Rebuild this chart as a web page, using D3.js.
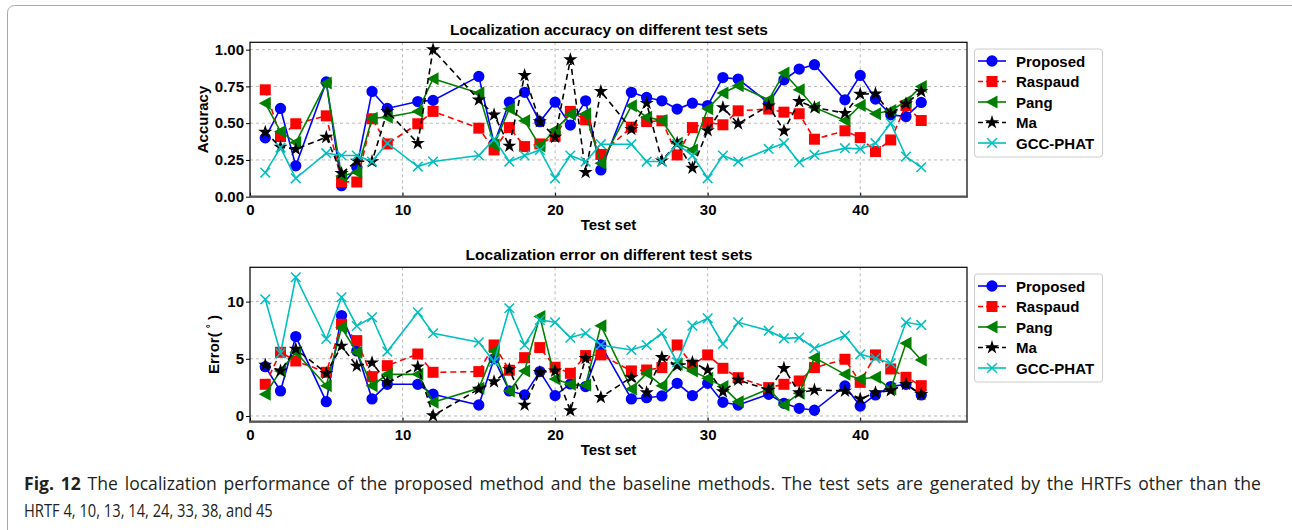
<!DOCTYPE html>
<html>
<head>
<meta charset="utf-8">
<script src="https://cdn.jsdelivr.net/npm/d3@7"></script>
<style>
  html, body { margin: 0; padding: 0; background: #fff; }
  svg { display: block; }
  .tick text, .lbl { font-family: "Liberation Sans", Arial, sans-serif; font-weight: bold; fill: #000; }
</style>
</head>
<body>
<svg id="fig" width="1292" height="530"></svg>
<script>
// Test sets (HRTFs 4, 10, 13, 14, 24, 33, 38 and 45 are left out)
const testSets = [1,2,3,5,6,7,8,9,11,12,15,16,17,18,19,20,21,22,23,25,26,27,28,29,30,31,32,34,35,36,37,39,40,41,42,43,44];

// Localization accuracy per test set
const accProposed = [0.40,0.60,0.21,0.78,0.075,0.20,0.716,0.60,0.647,0.655,0.818,0.36,0.643,0.71,0.51,0.643,0.487,0.652,0.182,0.71,0.675,0.652,0.596,0.636,0.62,0.81,0.80,0.637,0.795,0.868,0.898,0.659,0.825,0.664,0.557,0.545,0.641];
const accRaspaud = [0.727,0.409,0.496,0.55,0.102,0.10,0.53,0.359,0.496,0.58,0.466,0.318,0.47,0.341,0.359,0.41,0.58,0.523,0.287,0.473,0.511,0.516,0.284,0.47,0.505,0.489,0.584,0.596,0.575,0.564,0.391,0.448,0.402,0.307,0.386,0.62,0.518];
const accPang = [0.636,0.443,0.368,0.773,0.141,0.166,0.534,0.541,0.58,0.802,0.705,0.352,0.598,0.516,0.345,0.455,0.56,0.564,0.227,0.618,0.541,0.518,0.364,0.318,0.598,0.705,0.755,0.659,0.841,0.727,0.607,0.518,0.62,0.564,0.586,0.648,0.75];
const accMa = [0.439,0.337,0.323,0.405,0.159,0.243,0.239,0.58,0.364,1.0,0.659,0.557,0.345,0.825,0.511,0.405,0.932,0.166,0.716,0.459,0.636,0.245,0.364,0.195,0.45,0.607,0.496,0.618,0.448,0.648,0.607,0.568,0.698,0.70,0.564,0.632,0.716];
const accGcc = [0.164,0.334,0.125,0.296,0.28,0.28,0.239,0.364,0.205,0.239,0.28,0.391,0.239,0.28,0.318,0.125,0.28,0.239,0.357,0.357,0.239,0.239,0.357,0.28,0.125,0.28,0.239,0.325,0.364,0.235,0.284,0.33,0.325,0.364,0.50,0.273,0.20];

// Localization error (degrees) per test set
const errProposed = [4.31,2.19,6.94,1.25,8.78,5.69,1.49,2.77,2.77,1.9,0.96,5.0,2.19,1.84,3.88,1.78,2.8,2.57,6.21,1.49,1.6,1.75,2.86,1.78,2.86,1.2,0.96,1.9,1.11,0.67,0.5,2.62,0.87,1.84,2.57,2.77,1.84];
const errRaspaud = [2.77,5.57,4.81,3.82,8.02,6.59,3.44,4.4,5.42,3.82,3.88,6.21,4.0,5.1,5.98,4.26,3.73,5.28,5.34,3.94,4.02,4.23,6.21,4.46,5.34,4.17,3.35,2.48,2.77,3.06,4.23,4.96,2.94,5.34,4.11,3.38,2.65];
const errPang = [1.9,3.94,5.57,2.65,7.73,5.57,2.65,3.64,3.64,1.2,2.42,5.69,2.19,3.94,8.69,3.24,2.77,2.71,7.9,2.36,3.73,2.65,4.52,3.94,3.29,2.57,1.25,2.36,0.96,1.98,5.1,3.64,3.24,3.38,2.36,6.36,4.9];
const errMa = [4.46,3.94,5.86,3.73,6.12,4.37,4.66,2.94,4.31,0.03,2.35,3.0,4.08,0.96,3.82,3.94,0.47,5.04,1.63,3.38,2.04,5.13,4.4,4.69,4.02,2.13,3.15,2.27,4.17,2.04,2.27,2.19,1.49,2.04,2.22,2.77,1.9];
const errGcc = [10.2,5.48,12.13,6.73,10.38,7.87,8.63,5.63,9.07,7.23,6.44,4.75,9.42,6.21,8.4,8.19,6.85,7.23,6.21,5.77,6.21,7.23,4.69,7.9,8.54,6.3,8.19,7.46,6.79,6.85,5.92,7.03,5.39,5.04,4.61,8.19,7.96];

const methodNames = ["Proposed", "Raspaud", "Pang", "Ma", "GCC-PHAT"];
const xTicks = [0, 10, 20, 30, 40];
const accTicks = [0, 0.25, 0.5, 0.75, 1.0];
const errTicks = [0, 5, 10];

const styles = {
  "Proposed": { color: "#0000ff", dash: null,  marker: "circle" },
  "Raspaud":  { color: "#ff0000", dash: "6,4", marker: "square" },
  "Pang":     { color: "#008000", dash: null,  marker: "triLeft" },
  "Ma":       { color: "#000000", dash: "6,4", marker: "star" },
  "GCC-PHAT": { color: "#00bfbf", dash: null,  marker: "x" }
};

const svg = d3.select("#fig");

// outer figure frame
svg.append("rect").attr("x", 7.5).attr("y", 5.5).attr("width", 1300).attr("height", 600)
  .attr("rx", 7).attr("fill", "none").attr("stroke", "#a8a8a8").attr("stroke-width", 1);

function markerPath(kind) {
  if (kind === "circle") return d3.symbol(d3.symbolCircle, 100)();
  if (kind === "square") return d3.symbol(d3.symbolSquare, 121)();
  if (kind === "star") return d3.symbol(d3.symbolStar, 62)();
  if (kind === "x") return "M-4.8,-4.8L4.8,4.8M-4.8,4.8L4.8,-4.8";
  if (kind === "triLeft") return "M-6.5,0L5.5,-6.5L5.5,6.5Z";
}

function drawMarker(g, kind, color, x, y) {
  const p = g.append("path").attr("d", markerPath(kind)).attr("transform", `translate(${x},${y})`);
  if (kind === "x") p.attr("fill", "none").attr("stroke", color).attr("stroke-width", 1.5);
  else p.attr("fill", color).attr("stroke", "none");
}

function panel(cfg) {
  const g = svg.append("g");
  const x = d3.scaleLinear().domain([0, 47]).range([250, 967]);
  const y = d3.scaleLinear().domain(cfg.yDomain).range([cfg.bottom, cfg.top]);

  // grid
  g.append("g").selectAll("line").data(xTicks.filter(t => t > 0)).join("line")
    .attr("x1", d => x(d)).attr("x2", d => x(d)).attr("y1", cfg.top).attr("y2", cfg.bottom)
    .attr("stroke", "#b8b8b8").attr("stroke-dasharray", "3,3").attr("stroke-width", 1);
  g.append("g").selectAll("line").data(cfg.yTicks).join("line")
    .attr("x1", 250).attr("x2", 967).attr("y1", d => y(d)).attr("y2", d => y(d))
    .attr("stroke", "#b8b8b8").attr("stroke-dasharray", "3,3").attr("stroke-width", 1);

  // axes
  const xa = g.append("g").attr("transform", `translate(0,${cfg.bottom})`)
    .call(d3.axisBottom(x).tickValues(xTicks).tickFormat(d3.format("d")).tickSizeInner(-4).tickSizeOuter(0).tickPadding(8));
  xa.select(".domain").remove();
  xa.selectAll(".tick text").attr("font-size", 15);
  xa.selectAll(".tick line").attr("stroke", "#000");

  const ya = g.append("g").attr("transform", "translate(250,0)")
    .call(d3.axisLeft(y).tickValues(cfg.yTicks).tickFormat(cfg.fmt).tickSizeInner(4).tickSizeOuter(0).tickPadding(2));
  ya.select(".domain").remove();
  ya.selectAll(".tick text").attr("font-size", 15);

  // spines
  g.append("rect").attr("x", 250).attr("y", cfg.top).attr("width", 717).attr("height", cfg.bottom - cfg.top)
    .attr("fill", "none").attr("stroke", "#000").attr("stroke-width", 1.2);
  g.append("line").attr("x1", 249).attr("x2", 968).attr("y1", cfg.bottom).attr("y2", cfg.bottom)
    .attr("stroke", "#555").attr("stroke-width", 2.2);

  // series
  const line = d3.line().x((d, i) => x(testSets[i])).y(d => y(d));
  cfg.series.forEach((vals, k) => {
    const st = styles[methodNames[k]];
    const sg = g.append("g");
    sg.append("path").attr("d", line(vals)).attr("fill", "none").attr("stroke", st.color)
      .attr("stroke-width", 1.6).attr("stroke-dasharray", st.dash);
    vals.forEach((v, i) => drawMarker(sg, st.marker, st.color, x(testSets[i]), y(v)));
  });

  // title and labels
  svg.append("text").attr("class", "lbl").attr("x", 609).attr("y", cfg.top - 7.5)
    .attr("text-anchor", "middle").attr("font-size", 15.5).text(cfg.title);
  svg.append("text").attr("class", "lbl").attr("x", 608.5).attr("y", cfg.bottom + 33)
    .attr("text-anchor", "middle").attr("font-size", 15).text("Test set");
  const yl = svg.append("text").attr("class", "lbl")
    .attr("transform", `translate(${cfg.ylabelX},${(cfg.top + cfg.bottom) / 2}) rotate(-90)`)
    .attr("text-anchor", "middle").attr("font-size", 15);
  if (cfg.ylabel === "err") {
    yl.append("tspan").text("Error( ");
    yl.append("tspan").attr("font-size", 10).attr("dy", -5).text("°");
    yl.append("tspan").attr("dy", 5).text(" )");
  } else {
    yl.text(cfg.ylabel);
  }

  // legend
  const lg = svg.append("g");
  lg.append("rect").attr("x", 974.5).attr("y", cfg.legendTop).attr("width", 128).attr("height", 108)
    .attr("rx", 3).attr("fill", "#fff").attr("stroke", "#cccccc").attr("stroke-width", 1);
  methodNames.forEach((name, k) => {
    const st = styles[name];
    const cy = cfg.legendTop + 12 + k * 20.5;
    lg.append("line").attr("x1", 978).attr("x2", 1006).attr("y1", cy).attr("y2", cy)
      .attr("stroke", st.color).attr("stroke-width", 1.6).attr("stroke-dasharray", st.dash ? "5,3" : null);
    drawMarker(lg, st.marker, st.color, 992, cy);
    lg.append("text").attr("class", "lbl").attr("x", 1016).attr("y", cy + 5.5)
      .attr("font-size", 15).text(name);
  });
}

panel({
  top: 42.3, bottom: 196.7, yDomain: [0, 1.05], yTicks: accTicks, fmt: d3.format(".2f"),
  series: [accProposed, accRaspaud, accPang, accMa, accGcc],
  title: "Localization accuracy on different test sets", ylabel: "Accuracy", ylabelX: 208,
  legendTop: 49
});

panel({
  top: 267.3, bottom: 421.7, yDomain: [-0.5, 13], yTicks: errTicks, fmt: d3.format("d"),
  series: [errProposed, errRaspaud, errPang, errMa, errGcc],
  title: "Localization error on different test sets", ylabel: "err", ylabelX: 219,
  legendTop: 274
});

// figure caption: condensed glyphs, first line justified with a little extra word spacing
const capFont = "'Open Sans', 'Noto Sans', sans-serif";
const capLeft = 24, capRight = 1262, capSize = 18;

const capLine2 = svg.append("g");
const t2 = capLine2.append("text").attr("font-family", capFont).attr("font-size", capSize).attr("fill", "#231f20")
  .text("HRTF 4, 10, 13, 14, 24, 33, 38, and 45");
const sx2 = 249 / t2.node().getComputedTextLength();
capLine2.attr("transform", `translate(${capLeft},517) scale(${sx2},1)`);

const capLine1 = svg.append("g");
const t1 = capLine1.append("text").attr("font-family", capFont).attr("font-size", capSize).attr("fill", "#231f20");
t1.append("tspan").attr("font-weight", "bold").text("Fig. 12");
t1.append("tspan").text(" The localization performance of the proposed method and the baseline methods. The test sets are generated by the HRTFs other than the");
const natural = t1.node().getComputedTextLength();
const gaps = (t1.text().match(/ /g) || []).length;
const extraPerGap = 2.2;
const sx1 = (capRight - capLeft - gaps * extraPerGap) / natural;
t1.attr("word-spacing", extraPerGap / sx1);
capLine1.attr("transform", `translate(${capLeft},490) scale(${sx1},1)`);
</script>
</body>
</html>
